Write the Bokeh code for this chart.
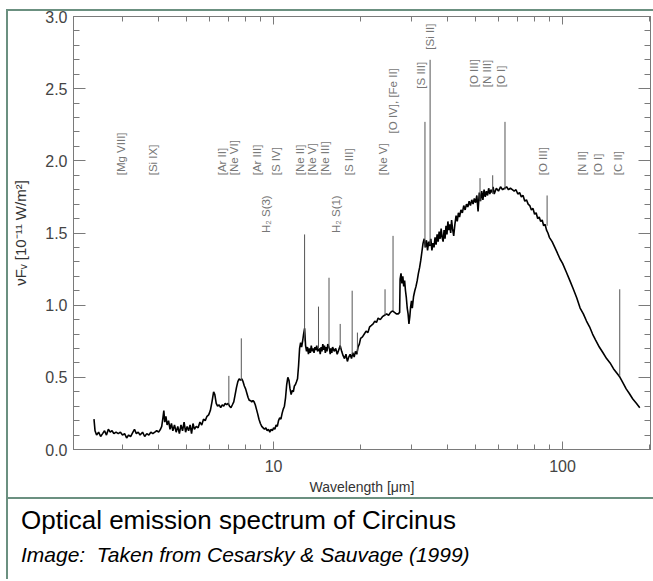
from math import pi
from bokeh.plotting import figure
from bokeh.layouts import column
from bokeh.models import (LogAxis, LinearAxis, FixedTicker, SingleIntervalTicker,
                          PrintfTickFormatter, Range1d, Div)
from bokeh.embed import file_html
from bokeh.resources import INLINE
from bokeh.core.properties import value

# ---- continuum spectrum (wavelength in micron, nuF_nu in 1e-11 W/m^2) ----
lam_cont = [2.39, 2.41, 2.44, 2.48, 2.52, 2.56, 2.60, 2.64, 2.68, 2.72, 2.76, 2.80, 2.85, 2.90, 2.95,
            3.00, 3.05, 3.10, 3.15, 3.20, 3.26, 3.30, 3.35, 3.40, 3.45, 3.52, 3.58, 3.64, 3.70, 3.76,
            3.82, 3.88, 3.94, 4.00, 4.06, 4.10, 4.14, 4.17, 4.20, 4.24, 4.28, 4.33, 4.38, 4.43, 4.48,
            4.54, 4.60, 4.66, 4.72, 4.78, 4.84, 4.90, 4.96, 5.02, 5.08, 5.14, 5.20, 5.26, 5.32, 5.40,
            5.48, 5.56, 5.64, 5.72, 5.80, 5.88, 5.96, 6.04, 6.12, 6.20, 6.26, 6.33, 6.40, 6.48, 6.56,
            6.64, 6.72, 6.80, 6.88, 6.96, 7.04, 7.12, 7.20, 7.28, 7.36, 7.44, 7.52, 7.60, 7.68, 7.76,
            7.84, 7.92, 8.00, 8.08, 8.16, 8.24, 8.32, 8.40, 8.48, 8.56, 8.64, 8.72, 8.80, 8.90, 9.00,
            9.10, 9.20, 9.30, 9.40, 9.50, 9.60, 9.70, 9.80, 9.90, 10.0, 10.1, 10.2, 10.3, 10.4, 10.5,
            10.6, 10.7, 10.8, 10.9, 11.0, 11.1, 11.2, 11.3, 11.4, 11.5, 11.6, 11.7, 11.8, 11.9, 12.0,
            12.1, 12.2, 12.3, 12.4, 12.5, 12.6, 12.7, 12.8, 12.9, 13.0, 13.1, 13.2, 13.3, 13.4, 13.5,
            13.6, 13.7, 13.8, 13.9, 14.0, 14.1, 14.2, 14.4, 14.5, 14.6, 14.7, 14.8, 14.9, 15.0, 15.1,
            15.2, 15.3, 15.4, 15.6, 15.7, 15.8, 15.9, 16.0, 16.2, 16.4, 16.6, 16.8, 17.0, 17.2, 17.4,
            17.6, 17.8, 18.0, 18.2, 18.4, 18.6, 18.8, 19.0, 19.2, 19.4, 19.6, 19.8, 20.0, 20.3, 20.6,
            20.9, 21.2, 21.5, 21.8, 22.1, 22.4, 22.7, 23.0, 23.4, 23.8, 24.2, 24.6, 25.0, 25.4, 25.8,
            26.2, 26.6, 27.0, 27.3, 27.4, 27.6, 27.8, 28.0, 28.2, 28.4, 28.6, 28.8, 29.0, 29.2, 29.4,
            29.6, 29.8, 30.0, 30.2, 30.5, 30.8, 31.1, 31.4, 31.7, 32.0, 32.3, 32.6, 32.9, 33.2, 33.5,
            33.8, 34.1, 34.4, 34.7, 35.0, 35.3, 35.6, 35.9, 36.2, 36.5, 36.8, 37.1, 37.4, 37.7, 38.0,
            38.3, 38.6, 38.9, 39.2, 39.5, 39.8, 40.1, 40.4, 40.7, 41.0, 41.3, 41.6, 42.0, 42.4, 42.8,
            43.2, 43.6, 44.0, 44.5, 45.0, 45.5, 46.0, 46.5, 47.0, 47.5, 48.0, 48.5, 49.0, 49.5, 50.0,
            50.5, 51.0, 51.5, 52.0, 52.5, 53.0, 53.5, 54.0, 54.5, 55.0, 55.5, 56.0, 56.5, 57.0, 57.5,
            58.0, 59.0, 60.0, 61.0, 62.0, 63.0, 64.0, 65.0, 66.0, 67.0, 68.0, 69.0, 70.0, 71.0, 72.0,
            73.0, 74.0, 75.0, 76.0, 77.0, 78.0, 79.0, 80.0, 81.0, 82.0, 83.0, 84.0, 85.0, 86.0, 87.0,
            88.0, 89.0, 90.0, 92.0, 94.0, 96.0, 98.0, 100, 103, 106, 109, 112, 115, 118, 121,
            124, 127, 130, 134, 138, 142, 146, 150, 154, 158, 162, 166, 170, 175, 180, 185]
flux_cont = [0.21, 0.13, 0.10, 0.12, 0.09, 0.11, 0.13, 0.10, 0.14, 0.12, 0.13, 0.11, 0.12, 0.11, 0.12,
             0.10, 0.11, 0.08, 0.10, 0.09, 0.12, 0.14, 0.11, 0.12, 0.10, 0.12, 0.09, 0.11, 0.10, 0.12,
             0.11, 0.12, 0.13, 0.12, 0.14, 0.16, 0.22, 0.27, 0.19, 0.23, 0.17, 0.20, 0.14, 0.18, 0.13,
             0.17, 0.12, 0.16, 0.11, 0.17, 0.13, 0.19, 0.12, 0.16, 0.13, 0.17, 0.11, 0.18, 0.14, 0.16,
             0.15, 0.19, 0.17, 0.21, 0.20, 0.23, 0.24, 0.27, 0.33, 0.40, 0.38, 0.32, 0.30, 0.31, 0.29,
             0.31, 0.30, 0.32, 0.31, 0.32, 0.30, 0.29, 0.31, 0.33, 0.38, 0.43, 0.47, 0.49, 0.48, 0.49,
             0.47, 0.44, 0.42, 0.39, 0.36, 0.34, 0.34, 0.33, 0.34, 0.33, 0.31, 0.28, 0.25, 0.21, 0.18,
             0.16, 0.15, 0.14, 0.15, 0.13, 0.14, 0.12, 0.14, 0.13, 0.15, 0.14, 0.17, 0.16, 0.20, 0.22,
             0.21, 0.25, 0.28, 0.30, 0.36, 0.45, 0.50, 0.48, 0.42, 0.38, 0.41, 0.40, 0.44, 0.45, 0.47,
             0.49, 0.58, 0.70, 0.74, 0.71, 0.75, 0.80, 0.84, 0.72, 0.68, 0.71, 0.66, 0.70, 0.67, 0.72,
             0.68, 0.70, 0.67, 0.71, 0.69, 0.72, 0.68, 0.70, 0.66, 0.71, 0.68, 0.73, 0.69, 0.72, 0.67,
             0.71, 0.68, 0.73, 0.70, 0.66, 0.70, 0.67, 0.71, 0.68, 0.70, 0.66, 0.69, 0.72, 0.68, 0.65,
             0.63, 0.66, 0.61, 0.64, 0.66, 0.63, 0.67, 0.64, 0.68, 0.66, 0.71, 0.73, 0.77, 0.78, 0.80,
             0.82, 0.81, 0.85, 0.86, 0.87, 0.89, 0.88, 0.91, 0.90, 0.92, 0.93, 0.94, 0.93, 0.95, 0.96,
             0.95, 0.94, 0.94, 0.95, 1.18, 1.22, 1.15, 1.20, 1.13, 1.17, 1.10, 1.05, 0.98, 0.94, 0.87,
             0.92, 0.99, 1.03, 0.98, 1.06, 1.10, 1.13, 1.17, 1.22, 1.26, 1.31, 1.37, 1.43, 1.46, 1.40,
             1.45, 1.38, 1.44, 1.41, 1.46, 1.38, 1.43, 1.40, 1.47, 1.42, 1.49, 1.44, 1.51, 1.46, 1.53,
             1.47, 1.44, 1.52, 1.46, 1.55, 1.49, 1.58, 1.52, 1.56, 1.50, 1.59, 1.53, 1.48, 1.56, 1.62,
             1.58, 1.64, 1.61, 1.66, 1.64, 1.69, 1.66, 1.70, 1.68, 1.72, 1.69, 1.73, 1.70, 1.74, 1.71,
             1.76, 1.65, 1.78, 1.72, 1.79, 1.73, 1.80, 1.75, 1.79, 1.76, 1.81, 1.77, 1.80, 1.78, 1.82,
             1.77, 1.81, 1.79, 1.82, 1.80, 1.81, 1.82, 1.80, 1.81, 1.80, 1.79, 1.80, 1.77, 1.78, 1.75,
             1.76, 1.72, 1.73, 1.70, 1.69, 1.66, 1.67, 1.63, 1.64, 1.60, 1.61, 1.58, 1.59, 1.55, 1.56,
             1.52, 1.50, 1.47, 1.44, 1.40, 1.36, 1.32, 1.29, 1.23, 1.17, 1.11, 1.05, 0.98, 0.94, 0.89,
             0.85, 0.80, 0.76, 0.71, 0.67, 0.63, 0.60, 0.56, 0.53, 0.50, 0.46, 0.42, 0.39, 0.35, 0.32, 0.29]

# ---- emission-line spikes ----
line_lam = [7.0, 7.73, 12.8, 14.3, 15.55, 17.0, 18.7, 19.5, 24.3, 25.9, 33.4, 34.8, 51.8, 57.3, 63.2, 88.4, 157.7]
line_base = [0.31, 0.48, 0.75, 0.70, 0.70, 0.70, 0.66, 0.67, 0.93, 0.96, 1.40, 1.42, 1.72, 1.77, 1.80, 1.55, 0.51]
line_peak = [0.51, 0.77, 1.49, 0.99, 1.19, 0.87, 1.10, 0.81, 1.11, 1.48, 2.27, 2.70, 1.88, 1.90, 2.27, 1.76, 1.11]

# ---- line identifications ----
lab_txt = ["[Mg VIII]", "[Si IX]", "[Ar II]", "[Ne VI]", "[Ar III]", "[S IV]", "H₂ S(3)",
           "[Ne II]", "[Ne V]", "[Ne III]", "H₂ S(1)", "[S III]", "[Ne V]", "[O IV], [Fe II]",
           "[S III]", "[Si II]", "[O III]", "[N III]", "[O I]", "[O III]", "[N II]", "[O I]", "[C II]"]
lab_lam = [2.96, 3.81, 6.64, 7.27, 8.73, 10.16, 9.38,
           12.3, 13.6, 15.1, 16.4, 18.2, 24.0, 25.8,
           32.3, 34.9, 49.2, 54.6, 61.0, 85.3, 117, 133, 155]
lab_y = [1.90, 1.90, 1.90, 1.90, 1.90, 1.90, 1.50,
         1.90, 1.90, 1.90, 1.50, 1.90, 1.90, 2.19,
         2.50, 2.77, 2.51, 2.51, 2.51, 1.90, 1.90, 1.90, 1.90]

x_major = [10, 100]
x_minor = [3, 4, 5, 6, 7, 8, 9, 20, 30, 40, 50, 60, 70, 80, 90, 200]

caption_title = "Optical emission spectrum of Circinus"
caption_credit = "Image:  Taken from Cesarsky &amp; Sauvage (1999)"

FONT = "Liberation Sans"
AX = "#7a7a7a"
BORDER = "2px solid #6b9080"

p = figure(width=645, height=491, x_axis_type="log",
           x_range=Range1d(2.03, 201.5), y_range=Range1d(0, 3.0),
           output_backend="svg", toolbar_location=None,
           min_border_left=65, min_border_right=3, min_border_top=10, min_border_bottom=47,
           styles={"margin-top": "-5px"})
p.grid.visible = False
p.outline_line_color = AX
p.background_fill_color = "white"
p.border_fill_color = None

xt = FixedTicker(ticks=x_major, minor_ticks=x_minor)
yt = SingleIntervalTicker(interval=0.5, num_minor_ticks=5)

xa = p.xaxis[0]
xa.ticker = xt
xa.major_label_overrides = {10: "10", 100: "100"}
xa.axis_label = "Wavelength [μm]"
ya = p.yaxis[0]
ya.ticker = yt
ya.formatter = PrintfTickFormatter(format="%.1f")
ya.axis_label = "νFᵥ [10⁻¹¹ W/m²]"

top = LogAxis(ticker=xt)
right = LinearAxis(ticker=yt)
p.add_layout(top, "above")
p.add_layout(right, "right")

for ax in (xa, top):
    ax.major_tick_in = 8
    ax.minor_tick_in = 5
for ax in (ya, right):
    ax.major_tick_in = 12
    ax.minor_tick_in = 6
for ax in (xa, ya, top, right):
    ax.major_tick_out = 0
    ax.minor_tick_out = 0
    ax.axis_line_color = AX
    ax.major_tick_line_color = AX
    ax.minor_tick_line_color = AX
    ax.major_label_text_font = FONT
    ax.major_label_text_font_size = "16px"
    ax.major_label_text_color = "#444444"
    ax.axis_label_text_font = FONT
    ax.axis_label_text_font_style = "normal"
    ax.axis_label_text_color = "#333333"
for ax in (top, right):
    ax.major_label_text_font_size = "1px"
    ax.major_label_text_color = None
    ax.major_label_standoff = 0
xa.major_label_standoff = 10
xa.axis_label_text_font_size = "14px"
xa.axis_label_standoff = 4
ya.major_label_standoff = 6
ya.axis_label_text_font_size = "15px"
ya.axis_label_standoff = 13

p.line(lam_cont, flux_cont, line_color="black", line_width=1.6)
p.segment(x0=line_lam, y0=line_base, x1=line_lam, y1=line_peak, line_color="#555555", line_width=1)
p.text(x=lab_lam, y=lab_y, text=lab_txt, angle=pi / 2, text_align="left", text_baseline="middle",
       text_font=value(FONT), text_font_size="11.5px", text_color="#777777")

cap = Div(
    text=(f"<div style=\"font-family:'{FONT}';font-size:26px;line-height:30px;color:#000;"
          f"margin:6px 0 0 13px;white-space:pre\">{caption_title}</div>"
          f"<div style=\"font-family:'{FONT}';font-size:21px;font-style:italic;line-height:26px;color:#000;"
          f"margin:7px 0 0 13px;white-space:pre\">{caption_credit}</div>"),
    width=645, height=82,
    styles={"border-top": BORDER, "margin": "0", "padding": "0"})

page = column(p, cap, spacing=0,
              styles={"margin-left": "6px", "margin-top": "9px",
                      "border-left": BORDER, "border-top": BORDER})

open("out.html", "w").write(file_html(page, INLINE))
